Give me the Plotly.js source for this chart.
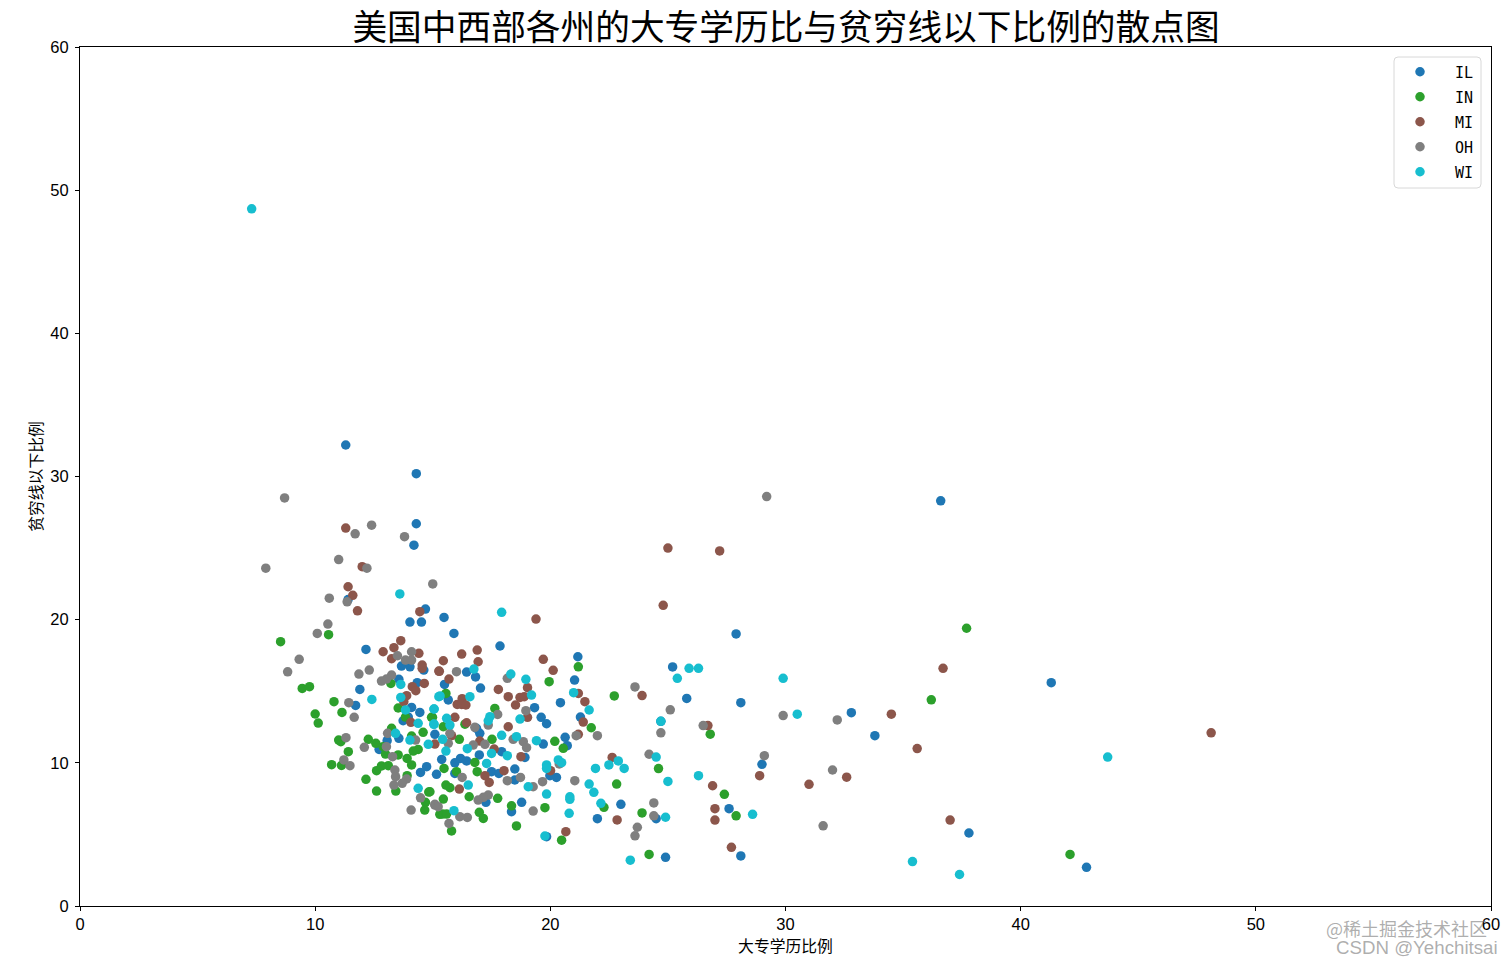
<!DOCTYPE html>
<html>
<head>
<meta charset="utf-8">
<script src="https://cdn.plot.ly/plotly-3.0.1.min.js"></script>
<style>html,body{margin:0;padding:0;background:#fff}</style>
</head>
<body>
<div id="chart" style="width:1512px;height:964px"></div>
<script>
const states = ['IL', 'IN', 'MI', 'OH', 'WI'];
const colors = ['#1f77b4', '#2ca02c', '#8c564b', '#7f7f7f', '#17becf'];

const ilX = [11.3,14.3,14.3,14.2,36.6,11.4,41.3,25.2,25.8,28.1,32.8,33.8,24.7,29,27.6,37.8,28.1,24.9,42.8,23,22,24.5,27.9,
15.48,15.9,17.86,21.17,21.03,20.43,19.33,19.61,19.84,21.28,20.63,20.72,19.7,16.82,16.44,17.03,15.5,15.66,15.09,17,16.86,15.38,16.18,15.94,16.44,15.16,15.94,16.98,17.93,17.5,17.81,18.49,18.49,20.26,19.98,17.26,18.78,18.35,18.92,19.84,
14.69,14.03,14.52,12.16,13.67,14.03,14.62,13.56,14.34,11.9,11.72,14.1,14.45,13.96,13.74,13.56,13.06,12.72,14.74,14.48];
const ilY = [32.2,30.2,26.7,25.2,28.3,21.4,15.6,16.7,14.5,14.2,13.5,11.9,12.9,9.9,6.8,5.1,3.5,3.4,2.7,7.1,6.1,6.1,19,
20.16,19.04,18.16,17.41,15.78,14.2,13.85,13.18,12.73,13.2,11.78,11.2,11.31,16,16.34,15.22,15.48,14.39,11.99,12.06,12.41,10.24,10.31,10,10.13,9.2,9.26,10.55,10.78,9.38,9.26,9.57,8.8,8.98,9.1,7.24,7.24,6.59,10.38,4.84,
20.74,19.83,19.83,17.92,16.76,16.71,16.48,15.83,15.6,15.13,14.01,13.87,13.52,13.2,12.94,11.71,11.55,10.94,9.73,9.33];

const inX = [37.7,36.2,26.8,27.4,27.9,24.2,42.1,23.9,24.6,
8.53,10.57,9.45,9.76,10.8,10,11.14,10.13,11,11.09,12.26,11.41,10.7,11.12,12.16,12.61,12.61,12.82,13.11,12.58,12.89,12.99,13.25,13.53,13.91,14.1,13.91,13.43,14.83,14.69,14.66,15.3,14.17,14.38,14.1,14.59,14.95,13.84,13.53,13.22,
17.64,14.99,15.56,15.45,16.37,16.13,17.52,16.79,16.89,16.01,15.48,15.56,15.73,14.88,15.45,16.55,17.76,15.42,15.59,16.98,17.15,15.8,18.56,18.35,19.77,20.19,20.55,19.95,21.19,21.74,22.72,22.82,22.28,20.48];
const inY = [19.4,14.4,12,7.8,6.3,3.6,3.6,6.5,9.6,
18.46,18.95,15.2,15.32,14.27,13.41,13.52,12.78,11.59,11.48,11.64,10.78,9.87,9.82,8.85,8.03,9.45,9.78,9.8,11.36,11.13,10.61,12.41,10.55,10.31,9.85,9.1,8.03,7.96,7.24,6.7,6.4,10.82,10.94,11.87,12.13,13.18,13.2,13.83,15.55,
13.8,13.18,14.85,12.52,12.7,11.64,11.64,10.03,9.38,9.38,9.61,8.45,8.26,7.98,7.47,7.63,7.52,6.42,6.42,6.54,6.12,5.24,5.59,7,6.87,11.5,11.01,15.67,16.71,12.45,14.67,8.52,6.89,4.6];

const miX = [11.3,25,27.2,11.4,12,11.6,24.8,36.7,23.9,34.5,26.7,48.1,35.6,28.9,32.6,31,26.9,27,27,37,27.7,
11.8,14.45,13.64,13.35,12.89,14.41,13.25,14.55,14.55,15.26,14.64,14.13,14.28,13.89,13.77,14.07,15.09,
19.39,16.23,16.89,15.45,16.93,15.28,15.69,19.7,20.12,17.79,18.21,18.71,18.89,19.03,18.52,19.03,16.25,16.04,16.23,16.41,15.94,16.44,18.21,15.8,17,17.61,18.75,18.03,17.22,17.4,16.13,20.01,21.19,21.4,21.47,21.19,22.63,22.84,20.66];
const miY = [26.4,25,24.8,22.3,23.7,21.7,21,16.6,14.7,13.4,12.6,12.1,11,9.1,9,8.5,8.4,6.8,6,6,4.1,
20.62,20.56,18.53,18.04,17.76,17.65,17.27,16.83,16.6,16.41,15.55,15.32,15.04,14.69,14.27,12.83,11.31,
20.04,17.6,17.88,17.13,17.06,16.39,15.85,17.23,16.46,15.13,14.62,14.57,14.62,15.25,14.04,13.18,14.48,14.08,14.08,14.04,13.18,12.8,12.52,11.9,11.52,10.96,10.43,9.45,9.1,8.63,8.17,9.45,11.99,12.85,14.27,14.85,10.38,6.01,5.19];

const ohX = [8.7,7.9,11,12.4,11.7,12.2,13.8,15,29.2,23.6,25.1,29.9,32.2,24.7,26.5,29.1,24.2,32,21.1,31.6,24.4,24.4,23.7,23.6,22,
10.6,11.36,10.54,10.09,9.32,8.83,11.86,12.3,13.5,14.1,13.84,14.1,13.25,13.03,12.82,11.43,11.66,11.31,12.09,13.08,13.03,14.27,13.29,11.22,11.48,13.39,13.42,13.89,13.7,13.35,14.48,15.09,14.08,
16.01,18.17,17.76,18.96,17.36,16.79,16.72,17.22,15.73,15.66,18.42,18.85,18.99,16.25,18.17,18.73,19.67,21.04,19.27,20.38,17.36,17.15,16.93,15.09,15.23,15.69,16.15,16.47,19.27];
const ohY = [28.5,23.6,24.2,26.6,26,23.6,25.8,22.5,28.6,15.3,13.7,13.3,13,12.1,12.6,10.5,10.6,9.5,11.9,5.6,7.2,6.3,5.5,4.9,11.9,
21.5,21.25,19.69,19.04,17.23,16.36,16.2,16.48,17.48,17.76,17.18,17.18,16.13,15.85,15.71,14.2,13.18,11.76,11.08,12.06,11.13,11.59,10.43,10.2,9.8,9.5,9.03,8.87,8.57,8.45,7.56,7.1,6.7,
16.37,15.9,13.38,13.64,12.64,12.48,11.24,11.29,12.06,11.36,11.64,11.48,11.06,8.98,8.75,8.98,8.68,8.75,8.33,9.92,7.75,7.59,7.4,7.05,6.94,5.77,6.24,6.19,6.63];

const wiX = [7.3,13.6,43.7,29.9,30.5,25.9,26.3,25.4,24.7,24.5,25,26.3,28.6,24.9,35.4,37.4,23.4,
12.41,13.64,13.64,15.26,13.84,15.06,14.38,15.05,13.42,14.03,14.81,14.38,
17.93,18.32,18.96,16.75,19.2,15.31,16.58,15.05,17.43,17.36,18.71,15.59,15.05,15.73,17.93,15.42,18.56,19.41,16.47,15.56,17.5,18.17,17.29,20.34,20.48,19.84,19.84,21.92,22.49,22.89,23.14,16.51,19.06,19.84,20.83,20.83,21.65,21.85,22.15,20.8,15.9,19.77,20.99,21.65];
const wiY = [48.7,21.8,10.4,15.9,13.4,16.6,16.6,15.9,12.9,10.4,8.7,9.1,6.4,6.2,3.1,2.2,3.2,
14.43,15.48,14.57,14.62,13.69,13.76,12.76,12.69,12.06,11.59,11.29,8.22,
20.51,16.2,15.83,16.55,14.73,14.67,14.62,13.76,13.22,12.94,13.06,13.11,12.71,12.64,11.92,11.64,11.83,11.55,10.99,10.82,10.66,10.5,9.96,10.2,10.01,9.85,9.61,9.61,9.85,10.13,9.61,8.45,8.33,7.82,7.63,7.45,8.52,7.94,7.17,6.47,6.66,4.89,14.9,13.69];

const xSeries = [ilX, inX, miX, ohX, wiX];
const ySeries = [ilY, inY, miY, ohY, wiY];

const titleText = '美国中西部各州的大专学历比与贫穷线以下比例的散点图';
const xTitle = '大专学历比例';
const yTitle = '贫穷线以下比例';
const cjk = '"Noto Sans CJK SC", sans-serif';
const latin = '"Liberation Sans", Arial, sans-serif';

const px2x = p => (p - 80) / 1411;
const px2y = p => (906 - p) / 859;
function roundedBox(l, t, r, b, c) {
  return `M ${px2x(l + c)} ${px2y(t)} L ${px2x(r - c)} ${px2y(t)} Q ${px2x(r)} ${px2y(t)} ${px2x(r)} ${px2y(t + c)} ` +
         `L ${px2x(r)} ${px2y(b - c)} Q ${px2x(r)} ${px2y(b)} ${px2x(r - c)} ${px2y(b)} ` +
         `L ${px2x(l + c)} ${px2y(b)} Q ${px2x(l)} ${px2y(b)} ${px2x(l)} ${px2y(b - c)} ` +
         `L ${px2x(l)} ${px2y(t + c)} Q ${px2x(l)} ${px2y(t)} ${px2x(l + c)} ${px2y(t)} Z`;
}

const traces = states.map((s, i) => ({
  type: 'scatter', mode: 'markers', name: s, legendgroup: s,
  x: xSeries[i], y: ySeries[i],
  marker: {color: colors[i], size: 9.5, line: {width: 0}},
  hoverinfo: 'skip'
}));

const axisBase = {
  showgrid: false, zeroline: false, showline: true, mirror: true,
  linecolor: '#000', linewidth: 1, ticks: 'outside', ticklen: 4, tickwidth: 1, tickcolor: '#000',
  tickfont: {family: latin, size: 16.5, color: '#000'},
  dtick: 10, tick0: 0, automargin: false
};

const layout = {
  width: 1512, height: 964, paper_bgcolor: '#fff', plot_bgcolor: '#fff',
  margin: {l: 80, r: 21, t: 47, b: 58},
  showlegend: true,
  title: {text: titleText, font: {family: cjk, size: 34.7, color: '#000'},
          x: 786 / 1512, xanchor: 'center', y: 1 - 28 / 964, yanchor: 'middle'},
  xaxis: Object.assign({}, axisBase, {range: [0, 60], ticklabelstandoff: -1,
    title: {text: xTitle, font: {family: cjk, size: 15.8, color: '#000'}, standoff: 9}}),
  yaxis: Object.assign({}, axisBase, {range: [0, 60], ticklabelstandoff: 3,
    title: {text: yTitle, font: {family: cjk, size: 15.8, color: '#000'}, standoff: 3}}),
  legend: {
    x: px2x(1385), xanchor: 'left', y: px2y(55.5), yanchor: 'top',
    bgcolor: 'rgba(0,0,0,0)', borderwidth: 0,
    font: {family: '"DejaVu Sans Mono", monospace', size: 15, color: '#000'},
    itemwidth: 60, tracegroupgap: 2.5
  },
  shapes: [{type: 'path', xref: 'paper', yref: 'paper', path: roundedBox(1394, 57, 1481, 188, 4),
            line: {color: '#d8d8d8', width: 1}, fillcolor: 'rgba(255,255,255,0.8)', layer: 'above'}],
  annotations: [
    {text: '@稀土掘金技术社区', xref: 'paper', yref: 'paper', x: px2x(1406), y: px2y(928),
     xanchor: 'center', yanchor: 'middle', showarrow: false,
     font: {family: cjk, size: 18, color: 'rgba(120,120,120,0.6)'}},
    {text: 'CSDN @Yehchitsai', xref: 'paper', yref: 'paper', x: px2x(1417), y: px2y(947.5),
     xanchor: 'center', yanchor: 'middle', showarrow: false,
     font: {family: latin, size: 18.7, color: 'rgba(120,120,120,0.6)'}}
  ]
};

Plotly.newPlot('chart', traces, layout, {displayModeBar: false, responsive: false});
</script>
</body>
</html>
